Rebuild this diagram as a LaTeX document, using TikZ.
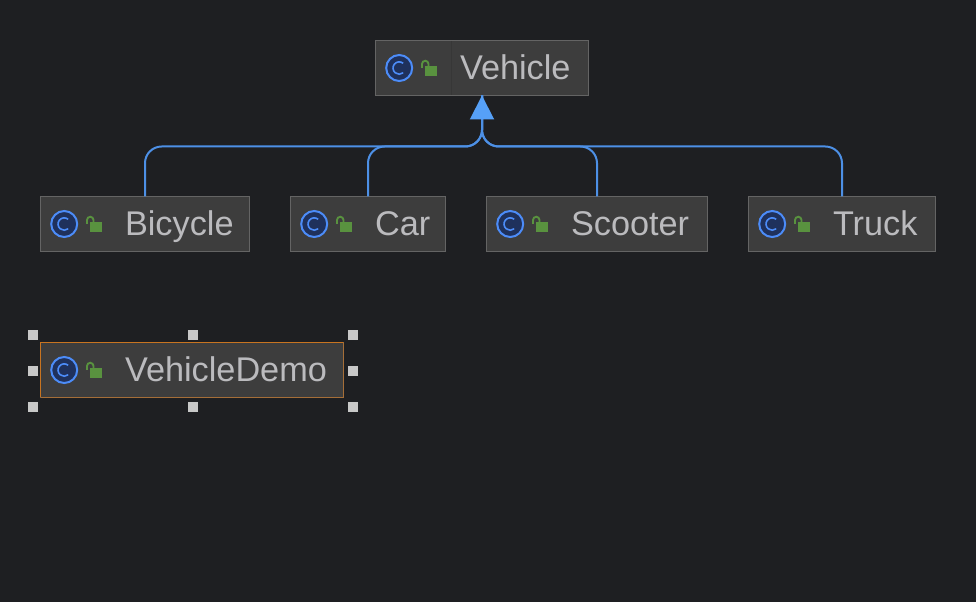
\documentclass[tikz,border=0pt]{standalone}
\usepackage{fontspec}
\setmainfont{Liberation Sans}
\usetikzlibrary{arrows.meta}
\definecolor{bgc}{HTML}{1E1F22}
\definecolor{boxfill}{HTML}{3D3D3D}
\definecolor{boxline}{HTML}{646464}
\definecolor{divc}{HTML}{373737}
\definecolor{txt}{HTML}{BBBBBE}
\definecolor{iconblue}{HTML}{4C8CF8}
\definecolor{icondark}{HTML}{1F315C}
\definecolor{lockgreen}{HTML}{59923F}
\definecolor{edgeblue}{HTML}{4D90E6}
\definecolor{tipblue}{HTML}{56A0F7}
\definecolor{selorange}{HTML}{C87420}
\definecolor{handlec}{HTML}{C8C8C8}
\tikzset{
  x=0.75pt,y=-0.75pt,
  classbox/.style={draw=boxline,fill=boxfill,line width=0.75pt,anchor=north west,inner sep=0pt,outer sep=0pt,
    text=txt,align=left,text height=29.625pt,text depth=11.625pt,font=\fontsize{25.7}{30}\selectfont},
  inherit/.style={draw=edgeblue,line width=1.5pt},
  handle/.style={fill=handlec,draw=none,minimum size=7.5pt,inner sep=0pt,outer sep=0pt}
}
% \classicon{x of box left}{y of box centre}
\newcommand{\classicon}[2]{%
  \begin{scope}[shift={(#1,#2)}]
    \fill[icondark] (23.7,0) circle [radius=9.75pt];
    \draw[iconblue,line width=1.5pt] (23.7,0) circle [radius=9.75pt];
    \draw[iconblue,line width=1.2pt] (27.7,-4.7) arc[start angle=50,end angle=310,radius=4.65pt];
    \fill[lockgreen] (49.5,-2) rectangle (61.7,8);
    \draw[lockgreen,line width=1.4pt] (46.5,0) -- (46.5,-4) arc[start angle=180,end angle=0,radius=2.44pt] -- (53,-2);
  \end{scope}}
\begin{document}
\begin{tikzpicture}
\useasboundingbox[fill=bgc] (0,0) rectangle (976,602);
\node[classbox,text width=159.75pt] (vehicle) at (375.5,40.5) {\hspace*{63.4pt}Vehicle};
\node[classbox,text width=156.75pt] (bicycle) at (40.5,196.5) {\hspace*{63.4pt}Bicycle};
\node[classbox,text width=116.25pt] (car) at (290.5,196.5) {\hspace*{63.4pt}Car};
\node[classbox,text width=165.75pt] (scooter) at (486.5,196.5) {\hspace*{63.4pt}Scooter};
\node[classbox,text width=140.25pt] (truck) at (748.5,196.5) {\hspace*{63.4pt}Truck};
\node[classbox,text width=227.25pt] (demo) at (40.5,342.5) {\hspace*{63.4pt}VehicleDemo};
\draw[divc,line width=0.75pt] (451.5,41) -- (451.5,95);
\draw[selorange,line width=0.9pt] (demo.south west) -- (demo.north west) -- (demo.north east);
\draw[selorange!65!boxline,line width=0.75pt] (demo.north east) -- (demo.south east) -- (demo.south west);
\classicon{375.5}{68}
\classicon{40.5}{224}
\classicon{290.5}{224}
\classicon{486.5}{224}
\classicon{748.5}{224}
\classicon{40.5}{370}
\coordinate (join) at (vehicle.south |- 0,146.5);
\foreach \c in {bicycle,car,scooter,truck}
  \draw[inherit] (\c.north) [rounded corners=12.5pt] |- (join) [rounded corners=9pt] -- (vehicle.south);
\draw[inherit,-{Triangle[length=18pt,width=18pt,color=tipblue]}] (join |- 0,125) -- (vehicle.south);
\node[handle] (haa) at (33,335) {};
\node[handle] (hba) at (193,335) {};
\node[handle] (hca) at (353,335) {};
\node[handle] (hab) at (33,371) {};
\node[handle] (hcb) at (353,371) {};
\node[handle] (hac) at (33,407) {};
\node[handle] (hbc) at (193,407) {};
\node[handle] (hcc) at (353,407) {};
\end{tikzpicture}
\end{document}
